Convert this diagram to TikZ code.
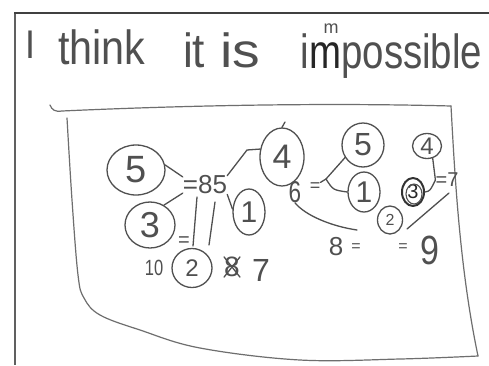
\documentclass[tikz,border=0pt]{standalone}
\usepackage{fontspec}
\setmainfont{Liberation Sans}
\usetikzlibrary{shapes.geometric}
\definecolor{pencil}{HTML}{505050}
\definecolor{boxline}{HTML}{6E6E6E}
\definecolor{framegray}{HTML}{606060}
\newcommand\hwsize[1]{\fontsize{#1}{#1}\selectfont}
\begin{document}
\begin{tikzpicture}[x=1pt,y=-1pt,line cap=round,line join=round,
  stroke/.style={draw=pencil,line width=1.3pt},
  ring/.style={ellipse,draw=pencil,line width=1.3pt,inner sep=0pt,text=pencil},
  lbl/.style={text=pencil,inner sep=0pt},
  word/.style={text=pencil,inner sep=0pt,anchor=base west}]
\useasboundingbox (0,0) rectangle (489,365);
\fill[white] (0,0) rectangle (489,365);
% outer frame
\draw[framegray,line width=2.6pt,line cap=butt] (15,12) -- (15,365);
\draw[black!75,line width=1.2pt,line cap=butt] (14,13) -- (489,13);
% title
\node[word,xscale=0.9] (tI) at (25,58) {\hwsize{40}I};
\node[word,xscale=0.86] (tthink) at (58,64) {\hwsize{48}think};
\node[word,xscale=0.92] (tit) at (183,67) {\hwsize{48}it};
\node[word,xscale=1.15] (tis) at (220,67) {\hwsize{48}is};
\node[word,xscale=0.8] (ti) at (300,68) {\hwsize{48}i};
\node[word,xscale=0.8,text=black!85] (tmm) at (ti.base east) {\hwsize{48}m};
\node[word,xscale=0.8] (tposs) at (tmm.base east) {\hwsize{48}possible};
\node[lbl] (tm) at (331,29) {\hwsize{18}m};
% inner hand-drawn box
\draw[boxline,line width=1.2pt] (50,105) .. controls (52,110) and (55,112) .. (62,111)
  .. controls (150,107) and (300,102) .. (451,106);
\draw[boxline,line width=1.2pt] (451,106) .. controls (455,180) and (460,270) .. (478,356);
\draw[boxline,line width=1.2pt] plot[smooth,tension=0.6] coordinates
  {(478,356) (400,359) (300,360) (200,348) (140,330) (100,315) (84,298) (78,275) (72,200) (67,118)};
% left cluster
\node[ring,minimum width=58pt,minimum height=50pt] (L5) at (136,170) {\hwsize{38}5};
\node[ring,minimum width=44pt,minimum height=58pt] (L4) at (282,157) {\hwsize{34}4};
\node[ring,minimum width=32pt,minimum height=46pt] (L1) at (249,212) {\hwsize{30}1};
\node[ring,minimum width=50pt,minimum height=46pt] (L3) at (150,225) {\hwsize{36}3};
\node[ring,minimum width=40pt,minimum height=39pt] (L2) at (192,268) {\hwsize{24}2};
\node[lbl] (eq85) at (205,185) {\hwsize{26}=85};
\node[lbl] (eqL) at (184,242) {\hwsize{20}=};
\node[lbl,xscale=0.75] (ten) at (154,268) {\hwsize{22}10};
\node[lbl] (x8) at (232,267) {\hwsize{28}8};
\node[lbl] (seven) at (261,270) {\hwsize{32}7};
\draw[stroke] (x8.north west) -- (x8.south east);
\draw[stroke] (x8.north east) -- (x8.south west);
\coordinate (b1t) at (197,197); \coordinate (b1b) at (193,246);
\coordinate (b2t) at (215,202); \coordinate (b2b) at (209,245);
\draw[stroke] (b1t) -- (b1b);
\draw[stroke] (b2t) -- (b2b);
\draw[stroke] (L5.10) -- (eq85.160);
\draw[stroke] (L4.160) -- (247,150) -- (eq85.north east);
\draw[stroke] (eq85.south east) -- (L1.170);
\draw[stroke] (L3.55) -- (eq85.200);
\coordinate (L4tail) at (285,122);
\draw[stroke] (L4.north) -- (L4tail);
% right cluster
\node[ring,minimum width=42pt,minimum height=44pt] (R5) at (363,145) {\hwsize{32}5};
\node[ring,minimum width=32pt,minimum height=40pt] (R1) at (364,192) {\hwsize{30}1};
\node[ring,minimum width=29pt,minimum height=25pt] (R4) at (427,146) {\hwsize{24}4};
\node[ring,line width=2pt,draw=black!80,text=black!85,minimum width=22pt,minimum height=28pt] (R3) at (413,192) {\hwsize{20}3};
\draw[pencil,line width=1.1pt] (414,194) ellipse (8pt and 10pt);
\node[ring,minimum width=25pt,minimum height=28pt] (R2) at (390,220) {\hwsize{16}2};
\node[lbl,xscale=0.75] (six) at (295,192) {\hwsize{30}6};
\node[lbl] (eqR1) at (315,187) {\hwsize{18}=};
\node[lbl] (eq7) at (447,180) {\hwsize{20}=7};
\node[lbl] (eight) at (336,247) {\hwsize{26}8};
\node[lbl] (eqR2) at (356,248) {\hwsize{16}=};
\node[lbl] (eqR3) at (403,248) {\hwsize{16}=};
\node[lbl,yscale=1.2] (nine) at (430,250) {\hwsize{34}9};
\coordinate (J) at (326,179);
\draw[stroke] (eqR1.north east) -- (J);
\draw[stroke] (J) -- (R5.215);
\draw[stroke] (J) .. controls (333,190) .. (R1.west);
\coordinate (sixend) at (357,230);
\draw[stroke] (six.south) .. controls (305,215) and (330,226) .. (sixend);
\draw[stroke] (R4.-65) -- (eq7.west);
\draw[stroke] (R3.east) .. controls (430,191) .. (eq7.west);
\coordinate (d1) at (449,193); \coordinate (d2) at (407,229);
\draw[stroke] (d1) -- (d2);
\end{tikzpicture}
\end{document}
